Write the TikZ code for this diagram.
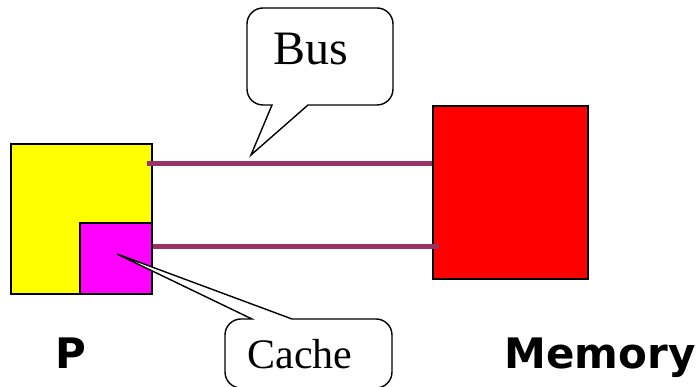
\documentclass[tikz,border=0pt]{standalone}
\usepackage{fontspec}
\setmainfont{Liberation Serif}
\newfontfamily\labelfont{DejaVu Sans}
\usetikzlibrary{positioning,calc}

\definecolor{busplum}{HTML}{993366}
\definecolor{procyellow}{RGB}{255,255,0}
\definecolor{cachepink}{RGB}{255,0,255}
\definecolor{memred}{RGB}{255,0,0}

\begin{document}
\begin{tikzpicture}[
    x=1pt, y=1pt,
    unit/.style={rectangle, draw=black, line width=1.8pt, inner sep=0pt},
    busline/.style={draw=busplum, line width=5pt},
    bubble/.style={draw=black, line width=1.4pt, fill=white},
    bubbletext/.style={font=\fontsize{42}{42}\selectfont, anchor=base},
    unitlabel/.style={font=\labelfont\bfseries\fontsize{42}{42}\selectfont, anchor=base}
]
\useasboundingbox (0,0) rectangle (697,387);

% processor, cache and memory
\node[unit, fill=procyellow, minimum width=141pt, minimum height=150pt] (proc) at (81.5,168) {};
\node[unit, fill=cachepink, minimum width=72pt, minimum height=71pt] (cache) at (116,128.5) {};
\node[unit, fill=memred, minimum width=155pt, minimum height=173pt] (memory) at (510.5,194.5) {};

% bus wires
\draw[busline] ([shift={(-6pt,55pt)}]proc.east) coordinate (wiretop) -- (wiretop -| memory.west);
\draw[busline] ([yshift=11.5pt]cache.east) coordinate (wirebot) -- ([xshift=7pt]wirebot -| memory.west);

% speech bubbles
\draw[bubble] (272,282) -- (251,232) -- (308,282) -- (377,282)
    arc[start angle=-90, end angle=0, radius=16] -- (393,363)
    arc[start angle=0, end angle=90, radius=16] -- (263,379)
    arc[start angle=90, end angle=180, radius=16] -- (247,298)
    arc[start angle=180, end angle=270, radius=16] -- cycle;
\node[bubbletext, font=\fontsize{48}{48}\selectfont] (bustext) at (311,322) {Bus};

\draw[bubble] (292,68) -- (117,133) -- (252,68) -- (241,68)
    arc[start angle=90, end angle=180, radius=16] -- (225,15)
    arc[start angle=180, end angle=270, radius=16] -- (376,-1)
    arc[start angle=270, end angle=360, radius=16] -- (392,52)
    arc[start angle=0, end angle=90, radius=16] -- cycle;
\node[bubbletext] (cachetext) at (300,18) {Cache};

% labels
\node[unitlabel] (plabel) at (70.5,18) {P};
\node[unitlabel] (memlabel) at (600,18) {Memory};

\end{tikzpicture}
\end{document}
